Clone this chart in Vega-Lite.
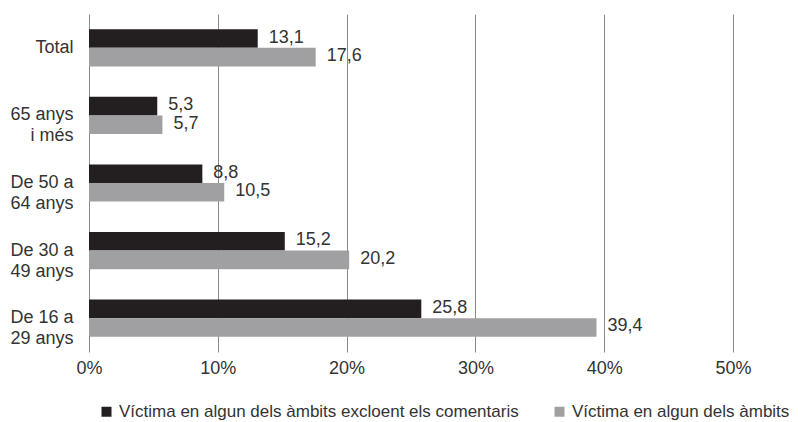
{
  "$schema": "https://vega.github.io/schema/vega-lite/v6.json",
  "width": 644,
  "height": 338,
  "autosize": {"type": "none"},
  "padding": {"left": 89, "top": 14, "right": 71, "bottom": 70},
  "background": "white",
  "config": {
    "view": {"stroke": null},
    "font": "Liberation Sans",
    "locale": {"number": {"decimal": ",", "thousands": ".", "grouping": [3], "currency": ["", " €"]}}
  },
  "data": {
    "values": [
      {"grup": "Total", "serie": "Víctima en algun dels àmbits excloent els comentaris", "valor": 13.1},
      {"grup": "Total", "serie": "Víctima en algun dels àmbits", "valor": 17.6},
      {"grup": "65 anys|i més", "serie": "Víctima en algun dels àmbits excloent els comentaris", "valor": 5.3},
      {"grup": "65 anys|i més", "serie": "Víctima en algun dels àmbits", "valor": 5.7},
      {"grup": "De 50 a|64 anys", "serie": "Víctima en algun dels àmbits excloent els comentaris", "valor": 8.8},
      {"grup": "De 50 a|64 anys", "serie": "Víctima en algun dels àmbits", "valor": 10.5},
      {"grup": "De 30 a|49 anys", "serie": "Víctima en algun dels àmbits excloent els comentaris", "valor": 15.2},
      {"grup": "De 30 a|49 anys", "serie": "Víctima en algun dels àmbits", "valor": 20.2},
      {"grup": "De 16 a|29 anys", "serie": "Víctima en algun dels àmbits excloent els comentaris", "valor": 25.8},
      {"grup": "De 16 a|29 anys", "serie": "Víctima en algun dels àmbits", "valor": 39.4}
    ]
  },
  "encoding": {
    "y": {
      "field": "grup",
      "type": "nominal",
      "sort": null,
      "scale": {"paddingInner": 0.45, "paddingOuter": 0.225},
      "axis": {
        "title": null,
        "domain": false,
        "ticks": false,
        "labelExpr": "split(datum.label, '|')",
        "labelFontSize": 18,
        "labelColor": "#333333",
        "labelPadding": 16,
        "labelLineHeight": 21,
        "labelAlign": "right"
      }
    },
    "yOffset": {
      "field": "serie",
      "type": "nominal",
      "sort": ["Víctima en algun dels àmbits excloent els comentaris", "Víctima en algun dels àmbits"]
    },
    "x": {
      "field": "valor",
      "type": "quantitative",
      "scale": {"domain": [0, 50], "nice": false},
      "axis": {
        "title": null,
        "values": [0, 10, 20, 30, 40, 50],
        "labelExpr": "datum.value + '%'",
        "domain": false,
        "ticks": false,
        "grid": true,
        "gridColor": "#8a8a8a",
        "gridWidth": 1,
        "labelFontSize": 18,
        "labelColor": "#333333",
        "labelPadding": 7,
        "labelFlush": false
      }
    }
  },
  "layer": [
    {
      "mark": {"type": "bar"},
      "encoding": {
        "color": {
          "field": "serie",
          "type": "nominal",
          "scale": {
            "domain": ["Víctima en algun dels àmbits excloent els comentaris", "Víctima en algun dels àmbits"],
            "range": ["#231f20", "#a0a0a3"]
          },
          "legend": {
            "title": null,
            "orient": "none",
            "direction": "horizontal",
            "legendX": 9,
            "legendY": 389,
            "symbolType": "square",
            "symbolSize": 100,
            "symbolStrokeWidth": 0,
            "labelFontSize": 17,
            "labelColor": "#333333",
            "labelOffset": 4,
            "columnPadding": 32,
            "labelLimit": 500
          }
        }
      }
    },
    {
      "mark": {"type": "text", "align": "left", "baseline": "middle", "dx": 11, "dy": -1, "fontSize": 18, "color": "#333333"},
      "encoding": {
        "text": {"field": "valor", "type": "quantitative", "format": ".1f"}
      }
    }
  ]
}
